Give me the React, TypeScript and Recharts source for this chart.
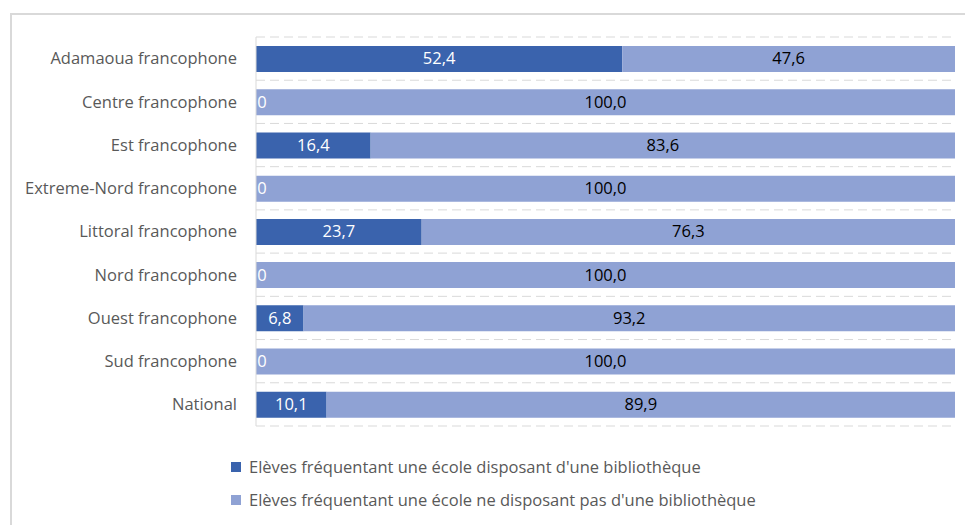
import React from 'react';
import { BarChart, Bar, XAxis, YAxis, CartesianGrid, LabelList } from 'recharts';

const regions = [
  'Adamaoua francophone',
  'Centre francophone',
  'Est francophone',
  'Extreme-Nord francophone',
  'Littoral francophone',
  'Nord francophone',
  'Ouest francophone',
  'Sud francophone',
  'National',
];
const withLibrary = [52.4, 0, 16.4, 0, 23.7, 0, 6.8, 0, 10.1];
const withoutLibrary = [47.6, 100.0, 83.6, 100.0, 76.3, 100.0, 93.2, 100.0, 89.9];

const seriesNames = [
  "Elèves fréquentant une école disposant d'une bibliothèque",
  "Elèves fréquentant une école ne disposant pas d'une bibliothèque",
];

const DARK = '#3A63AD';
const LIGHT = '#8FA2D4';
const FONT = '"Open Sans", "Noto Sans", sans-serif';
const FS = 16.5;

const data = regions.map((name, i) => ({
  name,
  avec: withLibrary[i],
  sans: withoutLibrary[i],
}));

const fmt = (v: number) => (v === 0 ? '0' : v.toFixed(1).replace('.', ','));

// dark segment labels (non-zero only)
const darkLabel = (props: any) => {
  const { x, y, width, height, value } = props;
  if (!value) return null;
  return (
    <text x={x + width / 2} y={y + height / 2 + 1} textAnchor="middle" dominantBaseline="middle"
      fill="#ffffff" fontSize={FS} fontFamily={FONT}>
      {fmt(value)}
    </text>
  );
};

// light segment labels; also shows the "0" of an empty dark segment at the bar start
const lightLabel = (props: any) => {
  const { x, y, width, height, value, index } = props;
  const zero = withLibrary[index] === 0;
  return (
    <g>
      {zero && (
        <text x={x + 6} y={y + height / 2 + 1} textAnchor="middle" dominantBaseline="middle"
          fill="#ffffff" fontSize={FS} fontFamily={FONT}>
          0
        </text>
      )}
      <text x={x + width / 2} y={y + height / 2 + 1} textAnchor="middle" dominantBaseline="middle"
        fill="#000000" fontSize={FS} fontFamily={FONT}>
        {fmt(value)}
      </text>
    </g>
  );
};

export default function App() {
  const n = regions.length;
  return (
    <div style={{ position: 'absolute', left: 0, top: 0, width: 965, height: 525, overflow: 'hidden', background: '#fff', fontFamily: FONT }}>
      <div
        style={{
          position: 'absolute',
          left: 10,
          top: 13,
          width: 970,
          height: 530,
          border: '2px solid #d9d9d9',
          boxSizing: 'border-box',
        }}
      />
      <div style={{ position: 'absolute', left: 0, top: 0 }}>
        <BarChart
          width={965}
          height={525}
          data={data}
          layout="vertical"
          margin={{ top: 37, right: 10, bottom: 99, left: 10 }}
          barSize={26}
        >
          <CartesianGrid
            horizontal
            vertical={false}
            stroke="#d9d9d9"
            strokeDasharray="9 5"
            horizontalCoordinatesGenerator={({ offset }: any) =>
              Array.from({ length: n + 1 }, (_, i) => offset.top + (i * offset.height) / n)
            }
          />
          <XAxis type="number" domain={[0, 100]} hide />
          <YAxis
            type="category"
            dataKey="name"
            width={246}
            axisLine={{ stroke: '#d9d9d9' }}
            tickLine={false}
            tickMargin={13}
            tick={{ fontSize: FS, fill: '#595959', fontFamily: FONT }}
            interval={0}
          />
          <Bar dataKey="avec" stackId="a" fill={DARK} isAnimationActive={false}>
            <LabelList dataKey="avec" content={darkLabel} />
          </Bar>
          <Bar dataKey="sans" stackId="a" fill={LIGHT} isAnimationActive={false}>
            <LabelList dataKey="sans" content={lightLabel} />
          </Bar>
        </BarChart>
      </div>
      {seriesNames.map((label, i) => (
        <div
          key={label}
          style={{
            position: 'absolute',
            left: 231,
            top: 455 + i * 33,
            display: 'flex',
            alignItems: 'center',
            fontSize: FS,
            color: '#595959',
            whiteSpace: 'nowrap',
          }}
        >
          <span style={{ display: 'inline-block', width: 10, height: 10, background: i === 0 ? DARK : LIGHT, marginRight: 8 }} />
          {label}
        </div>
      ))}
    </div>
  );
}
